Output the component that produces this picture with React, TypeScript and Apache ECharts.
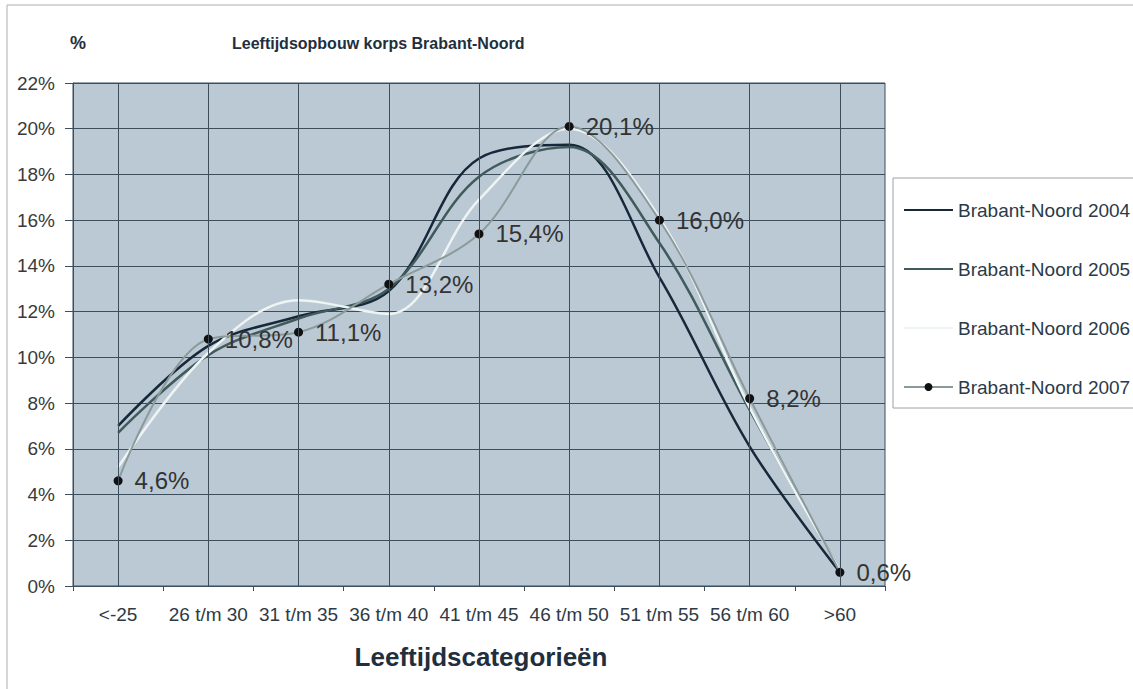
import React, { useEffect, useRef } from "react";
import * as echarts from "echarts";

const categories = ["<-25", "26 t/m 30", "31 t/m 35", "36 t/m 40", "41 t/m 45", "46 t/m 50", "51 t/m 55", "56 t/m 60", ">60"];
const seriesNames = ["Brabant-Noord 2004", "Brabant-Noord 2005", "Brabant-Noord 2006", "Brabant-Noord 2007"];
const values2004 = [7.0, 10.5, 11.8, 12.9, 18.7, 19.3, 13.5, 6.1, 0.6];
const values2005 = [6.7, 10.1, 11.7, 13.0, 17.9, 19.2, 15.0, 7.7, 0.7];
const values2006 = [5.2, 10.2, 12.5, 11.9, 16.9, 20.0, 16.1, 7.8, 0.7];
const values2007 = [4.6, 10.8, 11.1, 13.2, 15.4, 20.1, 16.0, 8.2, 0.6];
const yTicks = [0, 2, 4, 6, 8, 10, 12, 14, 16, 18, 20, 22];

const FONT = "Liberation Sans, Arial, sans-serif";
const GRID = "#3c4d5b";

export default function App() {
  const ref = useRef<HTMLDivElement>(null);
  useEffect(() => {
    document.body.style.margin = "0";
    const chart = echarts.init(ref.current!, null, { renderer: "svg" });
    const mk = (name: string, data: number[], color: string, width: number, extra: any = {}) => ({
      name,
      type: "line",
      data,
      smooth: 0.35,
      symbol: "none",
      lineStyle: { color, width },
      itemStyle: { color },
      z: 3,
      ...extra,
    });
    const noDot = { color: "rgba(0,0,0,0)", borderWidth: 0 };
    chart.setOption({
      animation: false,
      backgroundColor: "#ffffff",
      textStyle: { fontFamily: FONT },
      grid: {
        left: 73,
        right: 1133 - 885,
        top: 83,
        bottom: 689 - 586,
        show: true,
        backgroundColor: "#bac9d4",
        borderColor: GRID,
        borderWidth: 1,
      },
      legend: {
        orient: "vertical",
        left: 893,
        top: 178,
        padding: [22, 30, 11, 10],
        itemWidth: 49,
        itemHeight: 10,
        itemGap: 39,
        data: [
          { name: seriesNames[0], itemStyle: noDot },
          { name: seriesNames[1], itemStyle: noDot },
          { name: seriesNames[2], itemStyle: noDot },
          { name: seriesNames[3] },
        ],
        backgroundColor: "#ffffff",
        borderColor: "#9aa2a8",
        borderWidth: 1,
        textStyle: { fontSize: 19, lineHeight: 20, color: "#2b3a48", fontFamily: FONT },
      },
      xAxis: {
        type: "category",
        data: categories,
        boundaryGap: true,
        axisLine: { show: true, lineStyle: { color: GRID, width: 1 } },
        axisTick: { show: true, length: 5, lineStyle: { color: GRID } },
        axisLabel: { interval: 0, margin: 19, fontSize: 19, color: "#2e3a44", fontFamily: FONT },
        splitLine: { show: false },
      },
      yAxis: {
        type: "value",
        min: 0,
        max: 22,
        interval: 2,
        axisLine: { show: true, lineStyle: { color: GRID } },
        axisTick: { show: true, length: 8, lineStyle: { color: GRID } },
        axisLabel: {
          margin: 18,
          fontSize: 19,
          color: "#3a3a3a",
          fontFamily: FONT,
          formatter: (v: number) => (yTicks.includes(v) ? v + "%" : ""),
        },
        splitLine: { show: true, lineStyle: { color: GRID, width: 1 } },
      },
      graphic: [
        {
          type: "rect",
          shape: { x: 7, y: 5, width: 1160, height: 720 },
          style: { fill: "none", stroke: "#a9b0b6", lineWidth: 1 },
          silent: true,
          z: -10,
        },
        {
          type: "text",
          x: 70,
          y: 43,
          style: { text: "%", font: `bold 18px ${FONT}`, fill: "#1f2f3d", textVerticalAlign: "middle" },
        },
        {
          type: "text",
          x: 232,
          y: 43,
          style: {
            text: "Leeftijdsopbouw korps Brabant-Noord",
            font: `bold 16px ${FONT}`,
            fill: "#1f2f3d",
            textVerticalAlign: "middle",
          },
        },
        {
          type: "text",
          x: 481,
          y: 657,
          style: {
            text: "Leeftijdscategorieën",
            font: `bold 26px ${FONT}`,
            fill: "#1f2f3d",
            textAlign: "center",
            textVerticalAlign: "middle",
          },
        },
      ],
      series: [
        {
          name: "grid-verticals",
          type: "line",
          data: [],
          z: 1,
          silent: true,
          markLine: {
            silent: true,
            symbol: "none",
            label: { show: false },
            lineStyle: { color: GRID, width: 1, type: "solid" },
            data: categories.map((c) => ({ xAxis: c })),
          },
        },
        mk(seriesNames[0], values2004, "#17283a", 2.5),
        mk(seriesNames[1], values2005, "#415a5c", 2.5),
        mk(seriesNames[2], values2006, "#eef3f3", 2.5),
        mk(seriesNames[3], values2007, "#8b9b9b", 2, {
          symbol: "circle",
          symbolSize: 9,
          showSymbol: true,
          itemStyle: { color: "#111111" },
          lineStyle: { color: "#8b9b9b", width: 2 },
          label: {
            show: true,
            position: "right",
            distance: 12,
            fontSize: 24,
            color: "#333333",
            fontFamily: FONT,
            formatter: (p: any) => p.value.toFixed(1).replace(".", ",") + "%",
          },
        }),
      ],
    });
    return () => chart.dispose();
  }, []);
  return <div ref={ref} style={{ position: "fixed", left: 0, top: 0, width: 1133, height: 689 }} />;
}
